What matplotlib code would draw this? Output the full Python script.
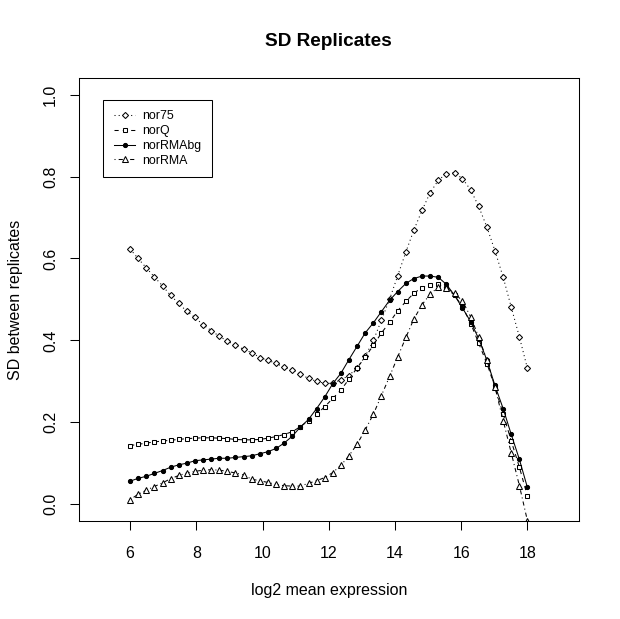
# SD between replicates, redrawn in the style of an R base plot

import matplotlib
matplotlib.use('Agg')
import matplotlib.pyplot as plt


# DATA
expr = [6.00, 6.24, 6.49, 6.73, 6.98, 7.22, 7.47, 7.71, 7.96, 8.20,
        8.45, 8.69, 8.94, 9.18, 9.43, 9.67, 9.92, 10.16, 10.41, 10.65,
        10.90, 11.14, 11.39, 11.63, 11.88, 12.12, 12.37, 12.61, 12.86, 13.10,
        13.35, 13.59, 13.84, 14.08, 14.33, 14.57, 14.82, 15.06, 15.31, 15.55,
        15.80, 16.04, 16.29, 16.53, 16.78, 17.02, 17.27, 17.51, 17.76, 18.00]

nor75 = [0.623, 0.600, 0.577, 0.555, 0.533, 0.510, 0.490, 0.471, 0.456, 0.438,
         0.424, 0.410, 0.398, 0.388, 0.378, 0.370, 0.358, 0.351, 0.344, 0.334,
         0.328, 0.317, 0.307, 0.300, 0.295, 0.295, 0.304, 0.314, 0.333, 0.361,
         0.400, 0.449, 0.501, 0.557, 0.616, 0.669, 0.718, 0.760, 0.791, 0.807,
         0.809, 0.795, 0.767, 0.727, 0.676, 0.619, 0.554, 0.482, 0.408, 0.332]

norQ = [0.143, 0.146, 0.149, 0.152, 0.154, 0.156, 0.158, 0.160, 0.161, 0.162,
        0.162, 0.161, 0.160, 0.158, 0.157, 0.157, 0.158, 0.161, 0.165, 0.170,
        0.177, 0.189, 0.204, 0.219, 0.238, 0.258, 0.279, 0.305, 0.333, 0.359,
        0.388, 0.418, 0.444, 0.472, 0.495, 0.515, 0.529, 0.536, 0.537, 0.528,
        0.510, 0.482, 0.441, 0.393, 0.343, 0.286, 0.220, 0.155, 0.090, 0.020]

norRMAbg = [0.056, 0.063, 0.068, 0.075, 0.082, 0.090, 0.096, 0.100, 0.106, 0.108,
            0.110, 0.112, 0.112, 0.114, 0.116, 0.118, 0.123, 0.128, 0.136, 0.149,
            0.166, 0.188, 0.207, 0.233, 0.262, 0.294, 0.320, 0.353, 0.386, 0.418,
            0.443, 0.470, 0.498, 0.519, 0.539, 0.551, 0.557, 0.557, 0.554, 0.537,
            0.510, 0.479, 0.445, 0.404, 0.351, 0.290, 0.233, 0.171, 0.109, 0.041]

norRMA = [0.011, 0.024, 0.034, 0.043, 0.052, 0.062, 0.070, 0.076, 0.080, 0.083,
          0.084, 0.083, 0.080, 0.076, 0.071, 0.061, 0.057, 0.053, 0.048, 0.045,
          0.044, 0.044, 0.051, 0.057, 0.065, 0.077, 0.095, 0.118, 0.147, 0.181,
          0.220, 0.265, 0.312, 0.359, 0.407, 0.452, 0.487, 0.513, 0.530, 0.528,
          0.515, 0.496, 0.457, 0.408, 0.351, 0.286, 0.204, 0.126, 0.045, -0.040]

series_names = ['nor75', 'norQ', 'norRMAbg', 'norRMA']
x_ticks = [6, 8, 10, 12, 14, 16, 18]
y_ticks = [0.0, 0.2, 0.4, 0.6, 0.8, 1.0]


# SETUP THE FIGURE
plt.rcParams['font.family'] = ['Liberation Sans', 'DejaVu Sans']
W, H = 620, 619
fig = plt.figure(figsize=(W / 100, H / 100), dpi=100, facecolor='white')

# plot region in pixels: left 78.5, right 579, top 78.3, bottom 520.5
ax = fig.add_axes([78.5 / W, (H - 520.5) / H, 500.5 / W, 442.2 / H])
ax.set_xlim(4.44, 19.56)
ax.set_ylim(-0.04, 1.04)

lw = 0.75
styles = [
    dict(ls=(0, (1, 3)), marker='D', ms=3.1, mfc='white'),   # nor75
    dict(ls=(0, (4, 4)), marker='s', ms=3.4, mfc='white'),   # norQ
    dict(ls='-', marker='o', ms=3.0, mfc='black'),           # norRMAbg
    dict(ls=(0, (1, 3, 4, 3)), marker='^', ms=4.2, mfc='white'),  # norRMA
]
for vals, name, st in zip([nor75, norQ, norRMAbg, norRMA], series_names, styles):
    ax.plot(expr, vals, color='black', lw=lw, mec='black', mew=lw,
            label=name, **st)


# AXES
for sp in ax.spines.values():
    sp.set_linewidth(lw)
ax.set_xticks(x_ticks)
ax.set_xticklabels([str(t) for t in x_ticks])
ax.set_yticks(y_ticks)
ax.set_yticklabels(['%.1f' % t for t in y_ticks])
ax.tick_params(direction='out', length=6.8, width=lw, labelsize=11.5)
ax.tick_params(axis='x', pad=11.5)
ax.tick_params(axis='y', pad=8)
plt.setp(ax.get_yticklabels(), rotation=90, va='center')

# titles and axis labels, placed like R's margin lines
fig.text(328.8 / W, 1 - 41 / H, 'SD Replicates', ha='center', va='center',
         fontsize=13.7, fontweight='bold')
fig.text(328.8 / W, 1 - 590.7 / H, 'log2 mean expression', ha='center',
         va='center', fontsize=11.5)
fig.text(16 / W, 1 - 299.4 / H, 'SD between replicates', ha='center',
         va='center', rotation=90, fontsize=11.5)


# LEGEND
leg = ax.legend(loc='upper left', bbox_to_anchor=(0.0496, 0.951),
                borderaxespad=0, fontsize=8.9, fancybox=False, shadow=False,
                framealpha=1, edgecolor='black', numpoints=1,
                borderpad=0.85, handlelength=1.75, handletextpad=0.55,
                labelspacing=0.22)
leg.get_frame().set_linewidth(lw)

fig.savefig('out.png', dpi=100, facecolor='white')
